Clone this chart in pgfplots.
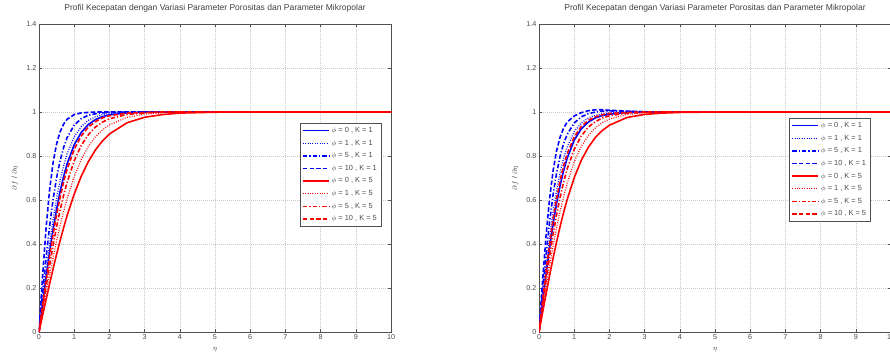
\documentclass[border=0pt]{standalone}
\usepackage{pgfplots}
\pgfplotsset{compat=1.18}
\usepackage{pgfplotstable}
\usepackage{fontspec}
\setmainfont{Liberation Sans}

% velocity profiles f'(eta): columns = (phi,K) cases
\pgfplotstableread{
eta   BS    BDo   BDd   BDa   RS    RDo   RDd   RDa
0     0     0     0     0     0     0     0     0
0.1   0.125 0.140 0.172 0.250 0.074 0.088 0.104 0.118
0.2   0.247 0.275 0.335 0.470 0.146 0.174 0.205 0.234
0.3   0.361 0.399 0.479 0.644 0.217 0.258 0.302 0.343
0.4   0.465 0.511 0.602 0.770 0.287 0.338 0.393 0.443
0.5   0.558 0.607 0.701 0.855 0.353 0.414 0.478 0.533
0.6   0.639 0.689 0.779 0.910 0.415 0.484 0.554 0.613
0.7   0.707 0.756 0.839 0.945 0.474 0.548 0.622 0.682
0.8   0.765 0.810 0.884 0.967 0.530 0.607 0.681 0.741
1.0   0.851 0.887 0.940 0.988 0.627 0.706 0.778 0.830
1.2   0.907 0.934 0.970 0.996 0.708 0.784 0.848 0.891
1.4   0.943 0.962 0.985 0.998 0.774 0.843 0.896 0.931
1.6   0.965 0.978 0.992 1.000 0.827 0.887 0.931 0.956
1.8   0.979 0.988 0.996 1.000 0.868 0.919 0.954 0.973
2.0   0.987 0.993 0.998 1.000 0.900 0.941 0.969 0.983
2.5   0.996 0.998 1.000 1.000 0.951 0.976 0.989 0.995
3.0   0.999 1.000 1.000 1.000 0.976 0.990 0.996 0.998
3.5   1.000 1.000 1.000 1.000 0.988 0.996 0.999 1.000
4.0   1.000 1.000 1.000 1.000 0.995 0.998 1.000 1.000
5.0   1.000 1.000 1.000 1.000 0.999 1.000 1.000 1.000
6.0   1.000 1.000 1.000 1.000 1.000 1.000 1.000 1.000
10    1.000 1.000 1.000 1.000 1.000 1.000 1.000 1.000
}\profA

\pgfplotstableread{
eta   BS    BDo   BDd   BDa   RS    RDo   RDd   RDa
0     0     0     0     0     0     0     0     0
0.1   0.133 0.152 0.181 0.230 0.087 0.103 0.118 0.140
0.2   0.262 0.297 0.350 0.437 0.172 0.203 0.234 0.275
0.3   0.381 0.429 0.500 0.605 0.256 0.299 0.343 0.399
0.4   0.490 0.545 0.624 0.733 0.335 0.390 0.443 0.511
0.5   0.585 0.644 0.723 0.824 0.410 0.474 0.533 0.607
0.6   0.666 0.725 0.800 0.886 0.480 0.550 0.613 0.689
0.7   0.734 0.790 0.857 0.927 0.544 0.617 0.682 0.756
0.8   0.790 0.841 0.898 0.954 0.602 0.676 0.741 0.810
1.0   0.872 0.910 0.950 0.982 0.701 0.774 0.830 0.887
1.2   0.923 0.950 0.978 0.997 0.780 0.844 0.891 0.934
1.4   0.954 0.973 0.992 1.006 0.839 0.893 0.931 0.962
1.6   0.973 0.985 1.000 1.010 0.884 0.928 0.956 0.978
1.8   0.984 0.992 1.004 1.010 0.916 0.952 0.973 0.988
2.0   0.990 0.996 1.005 1.008 0.940 0.968 0.983 0.993
2.5   0.998 1.000 1.003 1.004 0.975 0.989 0.995 0.998
3.0   1.000 1.000 1.001 1.001 0.989 0.996 0.998 1.000
3.5   1.000 1.000 1.000 1.000 0.995 0.999 1.000 1.000
4.0   1.000 1.000 1.000 1.000 0.998 1.000 1.000 1.000
5.0   1.000 1.000 1.000 1.000 1.000 1.000 1.000 1.000
6.0   1.000 1.000 1.000 1.000 1.000 1.000 1.000 1.000
10    1.000 1.000 1.000 1.000 1.000 1.000 1.000 1.000
}\profB

\definecolor{mblue}{RGB}{0,0,255}
\definecolor{mred}{RGB}{255,0,0}
\definecolor{axgray}{RGB}{80,80,80}
\definecolor{gridgray}{RGB}{200,200,200}

\tikzset{
  sSolid/.style={solid, line width=1.6pt},
  sDot/.style={line width=1.2pt, dash pattern=on 0.9pt off 1.5pt},
  sDashDot/.style={line width=1.6pt, dash pattern=on 4.5pt off 2pt on 1.2pt off 2pt},
  sDash/.style={line width=1.6pt, dash pattern=on 4.5pt off 2.2pt},
  c1/.style={draw=mblue, sSolid}, c2/.style={draw=mblue, sDot},
  c3/.style={draw=mblue, sDashDot}, c4/.style={draw=mblue, sDash},
  c5/.style={draw=mred, sSolid}, c6/.style={draw=mred, sDot},
  c7/.style={draw=mred, sDashDot}, c8/.style={draw=mred, sDash},
}

\pgfplotsset{
  mlab/.style={
    scale only axis, width=352pt, height=308pt,
    xmin=0, xmax=10, ymin=0, ymax=1.4,
    xtick={0,1,...,10},
    ytick={0,0.2,0.4,0.6,0.8,1,1.2,1.4},
    yticklabels={0,0.2,0.4,0.6,0.8,1,1.2,1.4},
    /pgf/number format/assume math mode=true,
    tick align=inside, major tick length=3pt,
    axis line style={axgray, line width=0.6pt},
    tick style={axgray, line width=0.5pt},
    grid=major,
    major grid style={gridgray, dash pattern=on 0.7pt off 1.3pt, line width=0.5pt},
    ticklabel style={font=\fontsize{7.2}{8}\selectfont, text=black!70},
    xticklabel style={yshift=1pt},
    yticklabel style={xshift=1pt},
    title style={at={(axis description cs:0.5,1.032)}, anchor=center,
      font=\fontsize{8.5}{9}\selectfont, text=black!75},
    title={Profil Kecepatan dengan Variasi Parameter Porositas dan Parameter Mikropolar},
    xlabel={$\eta$},
    xlabel style={at={(axis description cs:0.5,-0.058)}, anchor=center,
      font=\fontsize{7.2}{8}\selectfont, text=black!75},
    ylabel={$\partial f$ / $\partial\eta$},
    ylabel style={at={(axis description cs:-0.068,0.5)}, anchor=center, rotate=0,
      font=\fontsize{7.2}{8}\selectfont, text=black!75},
    legend style={draw=axgray, fill=white,
      font=\fontsize{7.4}{8.4}\selectfont, text=black!70,
      inner sep=2.2pt, row sep=2pt, cells={anchor=west}},
    legend image code/.code={%
      \draw[mark repeat=2,mark phase=2,##1]
        plot coordinates {(0pt,0pt) (13pt,0pt) (26pt,0pt)};},
  },
}

\begin{document}
\begin{tikzpicture}[x=1pt,y=1pt]

% left panel
\begin{axis}[mlab, at={(39pt,24pt)}, anchor=south west,
  legend style={at={(axis description cs:0.972,0.679)}, anchor=north east}]
  \addplot[c1] table[x=eta, y=BS]  {\profA}; \addlegendentry{$\phi$ = 0 , K = 1}
  \addplot[c2] table[x=eta, y=BDo] {\profA}; \addlegendentry{$\phi$ = 1 , K = 1}
  \addplot[c3] table[x=eta, y=BDd] {\profA}; \addlegendentry{$\phi$ = 5 , K = 1}
  \addplot[c4] table[x=eta, y=BDa] {\profA}; \addlegendentry{$\phi$ = 10 , K = 1}
  \addplot[c5] table[x=eta, y=RS]  {\profA}; \addlegendentry{$\phi$ = 0 , K = 5}
  \addplot[c6] table[x=eta, y=RDo] {\profA}; \addlegendentry{$\phi$ = 1 , K = 5}
  \addplot[c7] table[x=eta, y=RDd] {\profA}; \addlegendentry{$\phi$ = 5 , K = 5}
  \addplot[c8] table[x=eta, y=RDa] {\profA}; \addlegendentry{$\phi$ = 10 , K = 5}
\end{axis}

% right panel
\begin{axis}[mlab, at={(539pt,24pt)}, anchor=south west,
  legend style={at={(axis description cs:0.71,0.695)}, anchor=north west}]
  \addplot[c1] table[x=eta, y=BS]  {\profB}; \addlegendentry{$\phi$ = 0 , K = 1}
  \addplot[c2] table[x=eta, y=BDo] {\profB}; \addlegendentry{$\phi$ = 1 , K = 1}
  \addplot[c3] table[x=eta, y=BDd] {\profB}; \addlegendentry{$\phi$ = 5 , K = 1}
  \addplot[c4] table[x=eta, y=BDa] {\profB}; \addlegendentry{$\phi$ = 10 , K = 1}
  \addplot[c5] table[x=eta, y=RS]  {\profB}; \addlegendentry{$\phi$ = 0 , K = 5}
  \addplot[c6] table[x=eta, y=RDo] {\profB}; \addlegendentry{$\phi$ = 1 , K = 5}
  \addplot[c7] table[x=eta, y=RDd] {\profB}; \addlegendentry{$\phi$ = 5 , K = 5}
  \addplot[c8] table[x=eta, y=RDa] {\profB}; \addlegendentry{$\phi$ = 10 , K = 5}
\end{axis}

\pgfresetboundingbox
\useasboundingbox (0pt,0pt) rectangle (890pt,356pt);
\end{tikzpicture}
\end{document}
